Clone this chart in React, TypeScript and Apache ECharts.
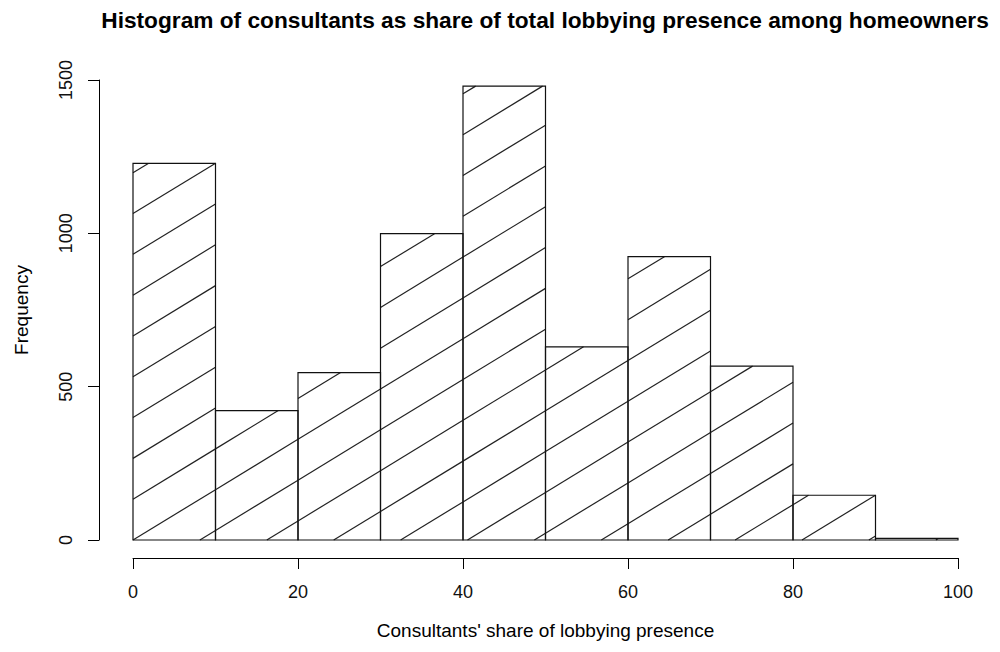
import React, { useEffect, useRef } from "react";
import * as echarts from "echarts";

const breaks = [0, 10, 20, 30, 40, 50, 60, 70, 80, 90, 100];
const counts = [1228, 422, 546, 999, 1480, 630, 924, 567, 146, 5];
const xTicks = [0, 20, 40, 60, 80, 100];
const yTicks = [0, 500, 1000, 1500];

const TITLE = "Histogram of consultants as share of total lobbying presence among homeowners";
const X_NAME = "Consultants' share of lobbying presence";
const Y_NAME = "Frequency";

const FONT = "Liberation Sans, Arial, Helvetica, sans-serif";

// hatch geometry (pixels)
const HATCH_SLOPE = 0.61;
const HATCH_SPACING = 66.9;

export default function App() {
  const ref = useRef<HTMLDivElement>(null);
  useEffect(() => {
    if (!ref.current) return;
    const chart = echarts.init(ref.current, null, { renderer: "svg" });
    const data = counts.map((c, i) => [breaks[i], breaks[i + 1], c]);
    const option: any = {
      animation: false,
      backgroundColor: "#fff",
      grid: { left: 133, right: 42, top: 80, bottom: 112 },
      graphic: [
        {
          type: "text",
          x: 545,
          y: 20,
          style: {
            text: TITLE,
            font: `bold 22.7px ${FONT}`,
            fill: "#000",
            textAlign: "center",
            textVerticalAlign: "middle",
          },
        },
      ],
      xAxis: {
        type: "value",
        min: xTicks[0],
        max: xTicks[xTicks.length - 1],
        interval: 20,
        offset: 18,
        name: X_NAME,
        nameLocation: "middle",
        nameGap: 63,
        nameTextStyle: { fontFamily: FONT, fontSize: 19, color: "#000" },
        axisLine: { show: true, onZero: false, lineStyle: { color: "#000", width: 1 } },
        axisTick: { show: true, length: 11, lineStyle: { color: "#000" } },
        axisLabel: {
          fontFamily: FONT,
          fontSize: 18,
          color: "#111",
          margin: 25,
          formatter: (v: number) => String(v),
        },
        splitLine: { show: false },
      },
      yAxis: {
        type: "value",
        min: yTicks[0],
        max: yTicks[yTicks.length - 1],
        interval: 500,
        offset: 34,
        name: Y_NAME,
        nameLocation: "middle",
        nameRotate: 90,
        nameGap: 68,
        nameTextStyle: { fontFamily: FONT, fontSize: 19, color: "#000" },
        axisLine: { show: true, onZero: false, lineStyle: { color: "#000", width: 1 } },
        axisTick: { show: true, length: 11, lineStyle: { color: "#000" } },
        axisLabel: {
          fontFamily: FONT,
          fontSize: 18,
          color: "#111",
          margin: 24,
          rotate: 90,
          formatter: (v: number) => String(v),
        },
        splitLine: { show: false },
      },
      series: [
        {
          type: "custom",
          data,
          clip: false,
          renderItem: (params: any, api: any) => {
            const x0 = api.value(0);
            const x1 = api.value(1);
            const c = api.value(2);
            const origin = api.coord([0, 0]);
            const pA = api.coord([x0, 0]);
            const pB = api.coord([x1, c]);
            const xl = pA[0], xr = pB[0], yb = pA[1], yt = pB[1];
            const ox = origin[0], oy = origin[1];
            const s = HATCH_SLOPE, h = HATCH_SPACING;
            const children: any[] = [];
            const umin = xl - ox - (oy - yt) / s;
            const umax = xr - ox - (oy - yb) / s;
            const kMin = Math.ceil(umin / h);
            const kMax = Math.floor(umax / h);
            for (let k = kMin; k <= kMax; k++) {
              const xAtB = ox + k * h + (oy - yb) / s;
              const xAtT = ox + k * h + (oy - yt) / s;
              const xa = Math.max(xl, xAtB);
              const xb = Math.min(xr, xAtT);
              if (xb - xa < 0.3) continue;
              const ya = oy - s * (xa - ox - k * h);
              const ybb = oy - s * (xb - ox - k * h);
              children.push({
                type: "line",
                shape: { x1: xa, y1: ya, x2: xb, y2: ybb },
                style: { stroke: "#222", lineWidth: 1.2 },
              });
            }
            children.push({
              type: "rect",
              shape: { x: xl, y: yt, width: xr - xl, height: yb - yt },
              style: { fill: "none", stroke: "#111", lineWidth: 1.2 },
            });
            return { type: "group", children };
          },
        },
      ],
    };
    chart.setOption(option);
    return () => chart.dispose();
  }, []);
  return (
    <div
      ref={ref}
      style={{ position: "fixed", left: 0, top: 0, width: 1000, height: 652, background: "#fff" }}
    />
  );
}
